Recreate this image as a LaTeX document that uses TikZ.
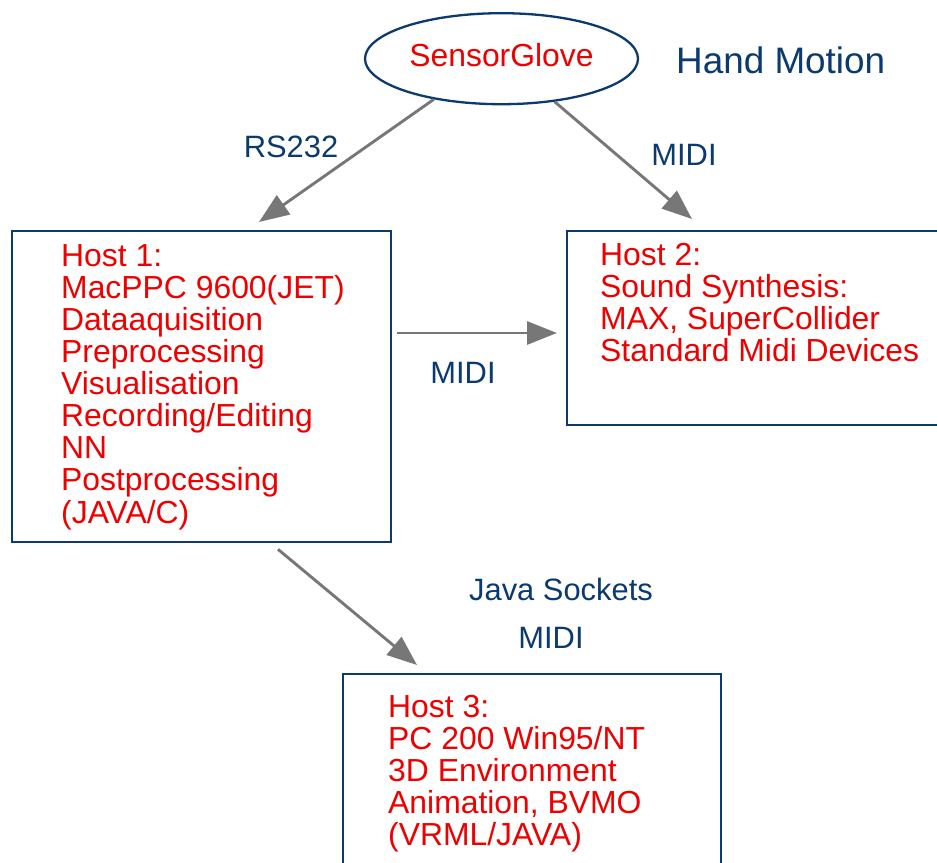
\documentclass[tikz,border=0pt]{standalone}
\usepackage{fontspec}
\setmainfont{Liberation Sans}
\usetikzlibrary{shapes.geometric,arrows.meta,calc}
\definecolor{navy}{HTML}{0B3A6E}
\definecolor{hostred}{HTML}{EE0000}
\definecolor{arrowgray}{HTML}{777777}
\begin{document}
\begin{tikzpicture}[x=1bp,y=-1bp,
  hostbox/.style={draw=navy,line width=2.3bp,anchor=north west,inner sep=0pt},
  hosttext/.style={text=hostred,font=\fontsize{32}{32.2}\selectfont,align=left,anchor=base west,inner sep=0pt},
  lbl/.style={text=navy,font=\fontsize{31}{31}\selectfont,anchor=base,inner sep=0pt},
  conn/.style={draw=arrowgray,line width=2.9bp,-{Triangle[length=30bp,width=23bp]}}]
\useasboundingbox (0,0) rectangle (937,863);
\node[ellipse,draw=navy,line width=2.3bp,minimum width=273bp,minimum height=91bp,inner sep=0pt,text height=17bp,text depth=1bp,text=hostred,font=\fontsize{32}{32}\selectfont] (glove) at (501.5,58.7) {SensorGlove};
\node[text=navy,font=\fontsize{37}{37}\selectfont,anchor=base west,inner sep=0pt] (hm) at (676,73.5) {Hand Motion};
\node[hostbox,minimum width=379bp,minimum height=311bp] (host1) at (11,230) {};
\node[hostbox,minimum width=420bp,minimum height=194bp] (host2) at (566,230) {};
\node[hostbox,minimum width=378bp,minimum height=250bp] (host3) at (342,673) {};
% multi-line nodes: base anchor is the baseline of the last line
\node[hosttext] (t1) at (61,523) {Host 1:\\MacPPC 9600(JET)\\Dataaquisition\\Preprocessing\\Visualisation\\Recording/Editing\\NN\\Postprocessing\\(JAVA/C)};
\node[hosttext] (t2) at (600,361.6) {Host 2:\\Sound Synthesis:\\MAX, SuperCollider\\Standard Midi Devices};
\node[hosttext] (t3) at (388,845.8) {Host 3:\\PC 200 Win95/NT\\3D Environment\\Animation, BVMO\\(VRML/JAVA)};
\node[lbl] (l1) at (291,157) {RS232};
\node[lbl] (l2) at (684,165) {MIDI};
\node[lbl] (l3) at (463,383) {MIDI};
\node[lbl] (l4) at (561,600) {Java Sockets};
\node[lbl] (l5) at (551,648) {MIDI};
\draw[conn] (glove.211.2) -- ($(host1.north west)+(248,-8)$);
\draw[conn] (glove.321.1) -- ($(host2.north west)+(126,-11)$);
\draw[conn] ($(host1.north east)+(5,103)$) -- ($(host2.north west)+(-9,103)$);
\draw[conn] ($(host1.south west)+(267,6)$) -- ($(host3.north west)+(75,-8)$);
\end{tikzpicture}
\end{document}
